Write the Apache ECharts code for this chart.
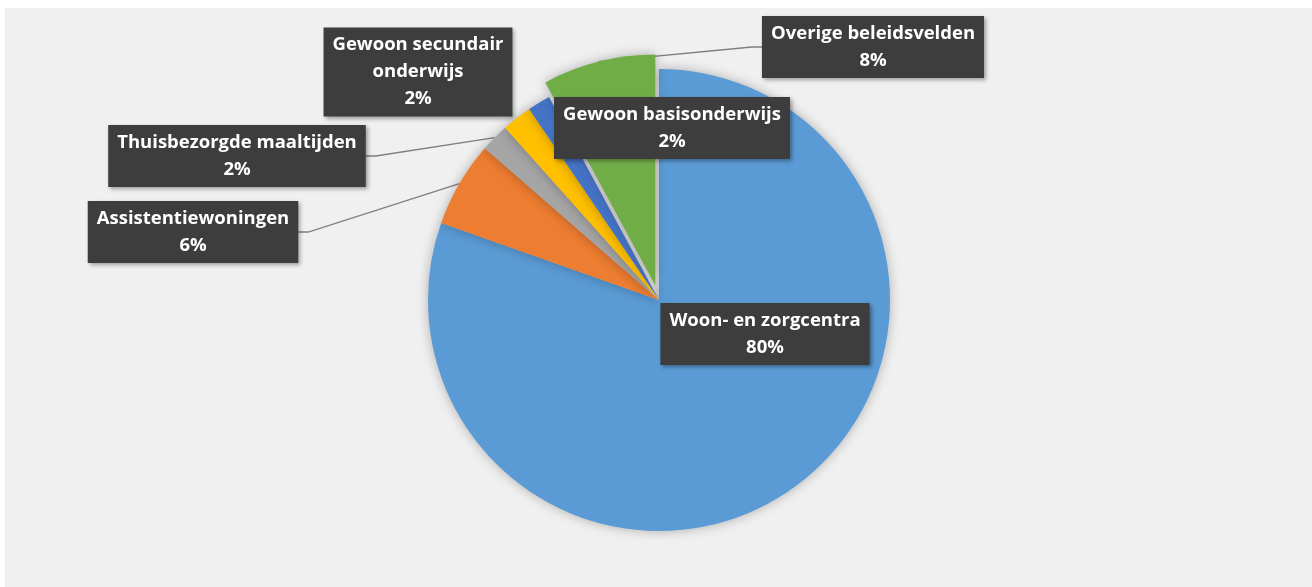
<!DOCTYPE html>
<html>
<head>
<meta charset="utf-8">
<script src="https://cdn.jsdelivr.net/npm/echarts@6/dist/echarts.min.js"></script>
<style>
html,body{margin:0;padding:0;background:#fff}
#main{width:1312px;height:587px}
</style>
</head>
<body>
<div id="main"></div>
<script>
// data
var categories = ['Woon- en zorgcentra', 'Assistentiewoningen', 'Thuisbezorgde maaltijden',
    'Gewoon secundair onderwijs', 'Gewoon basisonderwijs', 'Overige beleidsvelden'];
var labelNames = ['Woon- en zorgcentra', 'Assistentiewoningen', 'Thuisbezorgde maaltijden',
    'Gewoon secundair\nonderwijs', 'Gewoon basisonderwijs', 'Overige beleidsvelden'];
var shares = [80.4, 6.0, 2.0, 2.1, 1.6, 7.9];
var colors = ['#5b9bd5', '#ed7d31', '#a5a5a5', '#ffc000', '#4472c4', '#70ad47'];
var explodedIndex = 5;

// label box centres and side the leader line leaves from (1 right, -1 left, 0 none)
var labelPos = [[765, 334], [193, 232], [237, 156], [418, 72], [672, 128], [873, 47]];
var labelSide = [0, 1, 1, 0, 0, -1];

var myChart = echarts.init(document.getElementById('main'));

// build one pie layer: "exploded" true draws only the exploded slice, false draws the others
function pieLayer(exploded, center) {
    var data = [];
    for (var i = 0; i < categories.length; i++) {
        var visible = (i == explodedIndex) == exploded;
        data.push({
            name: categories[i],
            value: shares[i],
            itemStyle: visible ? {
                color: colors[i],
                shadowBlur: 12,
                shadowColor: 'rgba(0,0,0,0.28)'
            } : {color: 'rgba(0,0,0,0)'},
            label: {show: visible},
            labelLine: {show: visible && labelSide[i] != 0}
        });
    }
    return {
        type: 'pie',
        center: center,
        radius: 231,
        startAngle: 90,
        clockwise: true,
        silent: true,
        emphasis: {disabled: true},
        label: {
            position: 'outside',
            formatter: function (p) {
                return labelNames[p.dataIndex] + '\n' + Math.round(p.value) + '%';
            },
            color: '#ffffff',
            fontFamily: 'Open Sans',
            fontWeight: 'bold',
            fontSize: 18.5,
            lineHeight: 27,
            align: 'center',
            backgroundColor: '#3d3d3d',
            padding: [4, 9],
            shadowBlur: 4,
            shadowOffsetX: 2,
            shadowOffsetY: 2,
            shadowColor: 'rgba(0,0,0,0.35)'
        },
        labelLine: {
            lineStyle: {color: '#7f7f7f', width: 1.3}
        },
        labelLayout: function (p) {
            var i = p.dataIndex;
            var c = labelPos[i];
            var w = p.labelRect.width;
            var out = {x: c[0], y: c[1], align: 'center', verticalAlign: 'middle'};
            if (labelSide[i] != 0 && p.labelLinePoints) {
                var ex = c[0] + labelSide[i] * w / 2;
                out.labelLinePoints = [p.labelLinePoints[0], [ex + labelSide[i] * 10, c[1]], [ex, c[1]]];
            }
            return out;
        },
        data: data
    };
}

var option = {
    backgroundColor: '#ffffff',
    animation: false,
    graphic: [{
        type: 'rect',
        z: -10,
        shape: {x: 5, y: 8, width: 1307, height: 579},
        style: {fill: '#f0f0f0'}
    }],
    series: [
        pieLayer(false, [659, 300]),
        pieLayer(true, [655.3, 285.5])
    ]
};
myChart.setOption(option);
</script>
</body>
</html>
